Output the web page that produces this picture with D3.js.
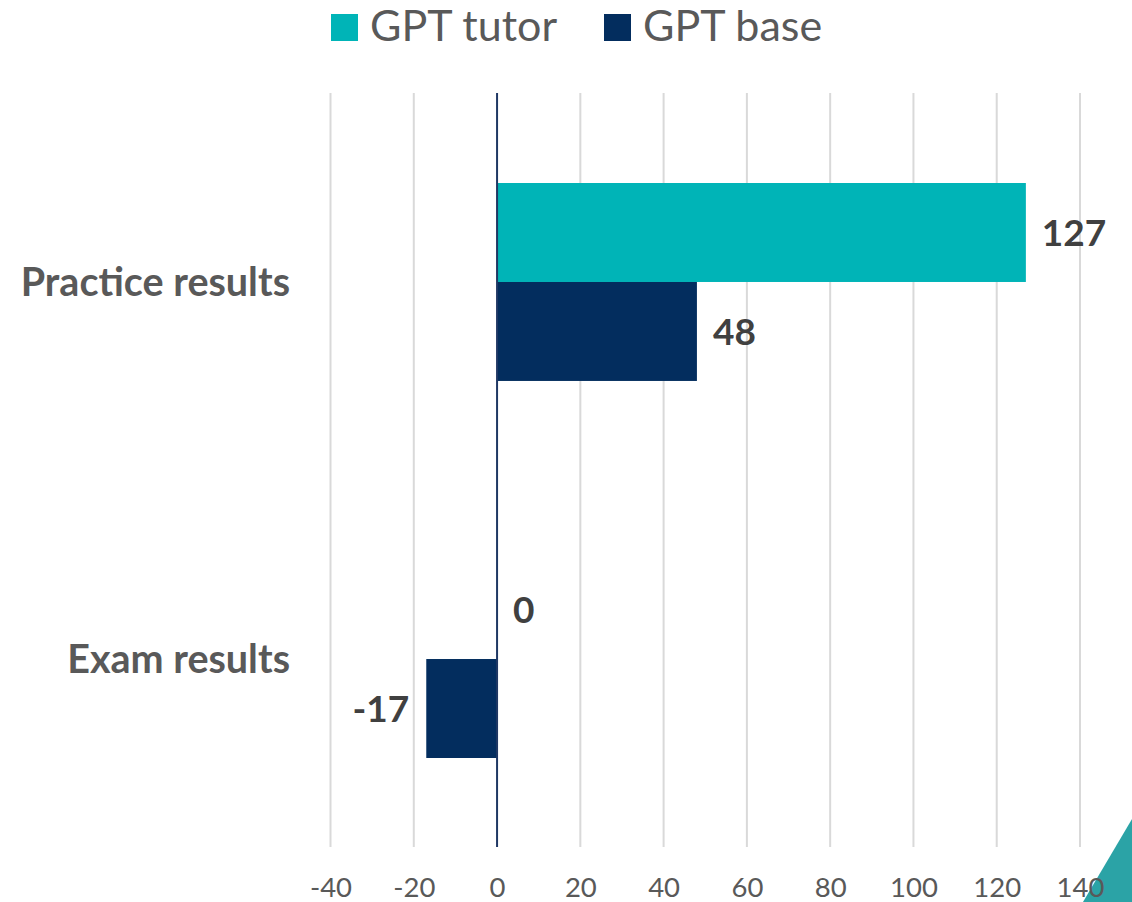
<!DOCTYPE html>
<html><head><meta charset="utf-8">
<script src="https://cdn.jsdelivr.net/npm/d3@7"></script>
<style>html,body{margin:0;padding:0;background:#fff;}svg{display:block;}</style>
</head><body>
<script>
const categories = ["Practice results", "Exam results"];
const seriesNames = ["GPT tutor", "GPT base"];
const tutorValues = [127, 0];
const baseValues = [48, -17];
const xTicks = [-40, -20, 0, 20, 40, 60, 80, 100, 120, 140];
const colors = ["#00B4B7", "#032D5E"];

const W = 1132, H = 902;
const svg = d3.select("body").append("svg").attr("width", W).attr("height", H);
const font = "Lato, 'Open Sans', sans-serif";

const x = d3.scaleLinear().domain([-40, 140]).range([330.5, 1080]);
const y = d3.scaleBand().domain(categories).range([93.5, 847.5]).paddingInner(0.475).paddingOuter(0.2374);
const ySub = d3.scaleBand().domain(seriesNames).range([0, y.bandwidth()]);

// corner decoration (behind text)
svg.append("polygon").attr("points", "1083,902 1132,819 1132,902").attr("fill", "#2BA3A6");

// grid
svg.append("g").selectAll("line").data(xTicks.filter(d => d !== 0)).join("line")
  .attr("x1", d => x(d)).attr("x2", d => x(d))
  .attr("y1", 93).attr("y2", 847)
  .attr("stroke", "#d9d9d9").attr("stroke-width", 2);

// tick labels
const xAxis = d3.axisBottom(x).tickValues(xTicks).tickFormat(d => String(d)).tickSize(0).tickPadding(0);
const ax = svg.append("g").attr("transform", "translate(0,876)").call(xAxis);
ax.select(".domain").remove();
ax.selectAll("text").attr("font-family", font).attr("font-size", 27.5)
  .attr("fill", "#595959").attr("dy", "0.78em").attr("y", 0);

const data = categories.map((c, i) => ({cat: c, vals: [
  {s: seriesNames[0], v: tutorValues[i], c: colors[0]},
  {s: seriesNames[1], v: baseValues[i], c: colors[1]}]}));

const groups = svg.append("g").selectAll("g").data(data).join("g")
  .attr("transform", d => `translate(0,${y(d.cat)})`);
groups.selectAll("rect").data(d => d.vals).join("rect")
  .attr("x", d => x(Math.min(0, d.v)))
  .attr("width", d => Math.abs(x(d.v) - x(0)))
  .attr("y", d => ySub(d.s)).attr("height", ySub.bandwidth())
  .attr("fill", d => d.c);
groups.selectAll("text").data(d => d.vals).join("text")
  .attr("x", d => d.v >= 0 ? x(d.v) + 16 : x(d.v) - 17)
  .attr("y", d => ySub(d.s) + ySub.bandwidth() / 2)
  .attr("dy", "0.36em")
  .attr("text-anchor", d => d.v >= 0 ? "start" : "end")
  .attr("font-family", font).attr("font-weight", "bold").attr("font-size", 37)
  .attr("fill", "#404040")
  .text(d => d.v);

// zero line
svg.append("line").attr("x1", x(0)).attr("x2", x(0)).attr("y1", 93).attr("y2", 847)
  .attr("stroke", "#1F3864").attr("stroke-width", 2);

// category labels
const yAxis = d3.axisLeft(y).tickSize(0).tickPadding(0);
const ay = svg.append("g").attr("transform", "translate(290,0)").call(yAxis);
ay.select(".domain").remove();
ay.selectAll("text").attr("font-family", font).attr("font-weight", "bold")
  .attr("font-size", 39.5).attr("fill", "#595959").attr("dy", "0.36em");

// legend
const legendX = [331, 604];
const lg = svg.append("g").selectAll("g").data(seriesNames).join("g")
  .attr("transform", (d, i) => `translate(${legendX[i]},14)`);
lg.append("rect").attr("width", 27).attr("height", 27).attr("fill", (d, i) => colors[i]);
lg.append("text").attr("x", 39).attr("y", 27).attr("font-family", font)
  .attr("font-size", 43).attr("fill", "#595959").text(d => d);
</script>
</body></html>
